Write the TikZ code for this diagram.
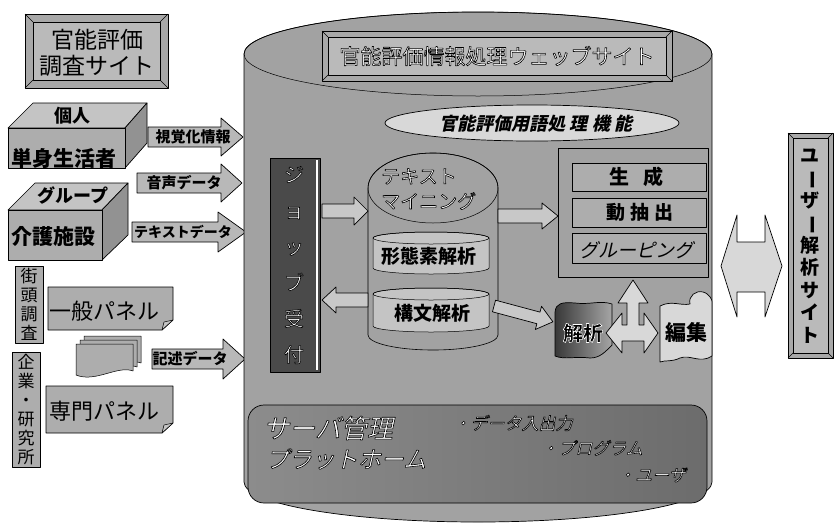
\documentclass[tikz,border=0pt]{standalone}
\usepackage{fontspec}
\setmainfont{Noto Sans CJK JP}
\newfontfamily\jpi[FakeSlant=0.22]{Noto Sans CJK JP}
\usepackage{graphicx}
\definecolor{cylbg}{HTML}{A2A2A2}
\definecolor{boxg}{HTML}{ADADAD}
\definecolor{boxlt}{HTML}{C4C4C4}
\definecolor{boxdk}{HTML}{929292}
\definecolor{arrg}{HTML}{B8B8B8}
\definecolor{hollow}{HTML}{C8C8C8}
\definecolor{lite}{HTML}{D8D8D8}
\definecolor{jobg}{HTML}{4A4A4A}
\definecolor{srvL}{HTML}{8C8C8C}
\definecolor{srvM}{HTML}{464646}
\definecolor{srvR}{HTML}{6C6C6C}
\definecolor{bevA}{HTML}{A8A8A8}
\definecolor{bevB}{HTML}{BABABA}
% outlined text: fill colour, stroke grey, text
\newcommand\outl[3]{{\color{#1}\special{pdf:literal direct 0.6 w #2 G 2 Tr}#3\special{pdf:literal direct 0 Tr}}}
\newcommand\ow[1]{\outl{white}{0}{#1}}
% right / left block arrows: style, x1, x2, y, body half, head half, head length
\newcommand\rarr[7]{\path[#1] (#2,#4-#5) -- (#3-#7,#4-#5) -- (#3-#7,#4-#6) -- (#3,#4) -- (#3-#7,#4+#6) -- (#3-#7,#4+#5) -- (#2,#4+#5) -- cycle;}
\newcommand\larr[7]{\path[#1] (#2,#4-#5) -- (#3+#7,#4-#5) -- (#3+#7,#4-#6) -- (#3,#4) -- (#3+#7,#4+#6) -- (#3+#7,#4+#5) -- (#2,#4+#5) -- cycle;}
% small cylinder: cx, top y, bottom y, rx, ry, fill
\newcommand\scyl[6]{\path[tl,fill=#6] (#1-#4,#2) -- (#1-#4,#3) arc[start angle=180,end angle=360,x radius=#4pt,y radius=#5pt] -- (#1+#4,#2) arc[start angle=0,end angle=180,x radius=#4pt,y radius=#5pt] -- cycle;
 \draw[tl] (#1,#2) ellipse[x radius=#4pt,y radius=#5pt];}
% bevelled plate: x1,y1,x2,y2,inset
\newcommand\bevel[5]{\path[ln,fill=bevA] (#1,#2) rectangle (#3,#4);
 \path[tl,fill=bevB] (#1+#5,#2+#5) rectangle (#3-#5,#4-#5);
 \draw[tl] (#1,#2) -- (#1+#5,#2+#5) (#3,#2) -- (#3-#5,#2+#5) (#3,#4) -- (#3-#5,#4-#5) (#1,#4) -- (#1+#5,#4-#5);}
\begin{document}
\begin{tikzpicture}[x=1pt,y=-1pt,line join=round,
  ln/.style={draw=black,line width=0.7pt},
  tl/.style={draw=black,line width=0.5pt},
  lbl/.style={inner sep=0pt,text=black},
  fr/.style={font=\fontsize{#1}{#1}\selectfont},
  fb/.style={font=\fontsize{#1}{#1}\selectfont\bfseries},
  fi/.style={font=\jpi\fontsize{#1}{#1}\selectfont},
  vt/.style 2 args={font=\fontsize{#1}{#2}\selectfont,align=center}]
\useasboundingbox (0,0) rectangle (834,525);
\fill[white] (0,0) rectangle (834,525);

% ===== left column =====
\bevel{25}{14}{168}{88}{8}
\node[lbl,vt={23}{26}] (survey) at (97,53) {官能評価\\調査サイト};

% individual box
\path[ln,fill=boxlt] (8,128) -- (33,103) -- (147,103) -- (125,128) -- cycle;
\path[ln,fill=boxdk] (125,128) -- (147,103) -- (147,143) -- (125,168) -- cycle;
\path[ln,fill=boxg] (8,128) rectangle (125,168);
\node[lbl,fb=18] (kojin) at (72,116) {個人};
\node[lbl,fb=21] (tanshin) at (64,158) {単身生活者};

% group box
\path[ln,fill=boxlt] (8,210) -- (35,183) -- (128,183) -- (102,210) -- cycle;
\path[ln,fill=boxdk] (102,210) -- (128,183) -- (128,235) -- (102,260) -- cycle;
\path[ln,fill=boxg] (8,210) rectangle (102,260);
\node[lbl,fb=18] (group) at (73,195) {グループ};
\node[lbl,fb=21] (kaigo) at (53,236) {介護施設};

% input arrows
\rarr{ln,fill=arrg}{148}{243}{137}{10}{19}{22}
\node[lbl,fb=15] (shikaku) at (193,137) {視覚化情報};
\rarr{ln,fill=arrg}{137}{242}{183}{10}{19}{21}
\node[lbl,fb=15] (onsei) at (184,183) {音声データ};
\rarr{ln,fill=arrg}{132}{246}{232}{10}{20}{28}
\node[lbl,fb=14] (textdata) at (183,232) {テキストデータ};
\rarr{ln,fill=arrg}{152}{245}{359}{10}{20}{22}
\node[lbl,fb=15] (kijutsu) at (190,359) {記述データ};

% vertical strips
\path[ln,fill=boxg] (15,266) rectangle (43,343);
\node[lbl,vt={17}{19}] (gaito) at (29,304) {街\\頭\\調\\査};
\path[ln,fill=boxg] (12,352) rectangle (40,467);
\node[lbl,vt={17}{19}] (kigyo) at (26,410) {企\\業\\・\\研\\究\\所};

% panels
\path[ln,fill=boxg] (48,287) -- (173,287) -- (173,320) -- (162,330) -- (48,330) -- cycle;
\path[tl,fill=boxlt] (173,320) -- (164,322) -- (162,330) -- cycle;
\node[lbl,fr=22] (ippan) at (104,311) {一般パネル};
\path[ln,fill=boxg] (46,386) -- (173,386) -- (173,423) -- (162,433) -- (46,433) -- cycle;
\path[tl,fill=boxlt] (173,423) -- (164,425) -- (162,433) -- cycle;
\node[lbl,fr=22] (senmon) at (104,411) {専門パネル};

% documents
\foreach \d in {8,4,0}{
 \path[tl,fill=boxg] (76+\d,344-\d) -- (133+\d,344-\d) -- (133+\d,371-\d) .. controls (118+\d,365-\d) and (95+\d,383-\d) .. (76+\d,375-\d) -- cycle;}

% ===== main cylinder =====
\path[ln,fill=cylbg] (244,54) -- (244,482) arc[start angle=180,end angle=360,x radius=234pt,y radius=40pt] -- (712,54) arc[start angle=0,end angle=180,x radius=234pt,y radius=42pt] -- cycle;
\draw[tl] (478,54) ellipse[x radius=234pt,y radius=42pt];

\bevel{322}{31}{672}{81}{6}
\node[lbl,fr=21] (title) at (497,56) {\ow{官能評価情報処理ウェッブサイト}};

\path[ln,fill=lite] (532,123) ellipse[x radius=147pt,y radius=18pt];
\node[lbl,font=\jpi\fontsize{18}{18}\selectfont\bfseries] (term) at (536,124) {官能評価用語処 理 機 能};

% job reception
\path[ln,fill=jobg] (270,158) rectangle (320,372);
\draw[white,line width=1.5pt] (317,160) -- (317,370);
\node[lbl,vt={20}{36}] (job) at (294,265) {\ow{ジ}\\\ow{ョ}\\\ow{ッ}\\\ow{ブ}\\\ow{受}\\\ow{付}};

% text mining cylinder
\path[tl,line width=0.6pt,fill=cylbg] (368,188) -- (368,335) arc[start angle=180,end angle=360,x radius=65pt,y radius=15pt] -- (498,188) arc[start angle=0,end angle=180,x radius=65pt,y radius=35pt] -- cycle;
\draw[tl] (433,188) ellipse[x radius=65pt,y radius=35pt];
\node[lbl,font=\fontsize{19}{25}\selectfont,align=left,anchor=west] (mining) at (381,189) {\ow{テキスト}\\\ow{マイニング}};

\scyl{431}{238}{268}{58}{6}{boxlt}
\node[lbl,fb=19] (keitai) at (429,256) {形態素解析};
\scyl{431}{294}{326}{58}{6}{boxlt}
\node[lbl,fb=19] (kobun) at (432,313) {構文解析};

\rarr{ln,fill=hollow}{322}{368}{211}{7}{14}{14}
\larr{ln,fill=hollow}{368}{322}{300}{7}{13}{14}
\rarr{ln,fill=hollow}{498}{558}{216}{7}{13}{16}
\begin{scope}[shift={(494,306)},rotate=-15]
\rarr{ln,fill=hollow}{0}{61}{0}{6}{12}{15}
\end{scope}

% function container
\draw[tl,line width=0.8pt] (558,148) rectangle (708,277);
\path[tl,fill=boxg] (572,163) rectangle (706,191);
\node[lbl,fb=20] (seisei) at (636,177) {生\hspace{14pt}成};
\path[tl,fill=boxg] (572,198) rectangle (706,227);
\node[lbl,fb=19] (dochu) at (640,212) {動\hspace{5pt}抽\hspace{5pt}出};
\path[tl,fill=boxg] (572,233) rectangle (706,263);
\node[lbl,fi=19] (grouping) at (636,250) {グルーピング};

% analysis shape
\path[ln,left color=black!78,right color=black!35] (555,312) .. controls (556,303) and (562,302) .. (575,303) .. controls (590,305) and (600,300) .. (612,304) -- (612,345) .. controls (605,352) and (600,358) .. (590,358) .. controls (575,356) and (565,360) .. (555,356) -- cycle;
\node[lbl,fb=20] (kaiseki) at (583,333) {\outl{black}{1}{解析}};

% edit shape
\path[ln,fill=lite] (660,306) .. controls (672,300) and (680,306) .. (690,304) .. controls (688,296) and (696,290) .. (703,292) .. controls (710,294) and (712,300) .. (712,302) -- (712,356) .. controls (700,364) and (690,354) .. (680,358) .. controls (672,362) and (665,360) .. (660,362) -- cycle;
\node[lbl,fb=21] (henshu) at (686,333) {編集};

% left-right-up arrow
\path[ln,fill=lite] (606,333) -- (622,313) -- (622,325) -- (627,325) -- (627,303) -- (618,303) -- (633,280) -- (648,303) -- (639,303) -- (639,325) -- (644,325) -- (644,313) -- (658,333) -- (644,353) -- (644,341) -- (622,341) -- (622,353) -- cycle;

% server platform
\shadedraw[ln,rounded corners=16pt,left color=srvL,middle color=srvM,right color=srvR] (248,405) rectangle (707,503);
\node[lbl,fi=26] (server) at (328,428) {\ow{サーバ管理}};
\node[lbl,fi=23] (platform) at (346,459) {\ow{プラットホーム}};
\node[lbl,fi=17] (dataio) at (513,423) {\ow{・データ入出力}};
\node[lbl,fi=17] (program) at (592,448) {\ow{・プログラム}};
\node[lbl,fi=17] (user) at (652,475) {\ow{・ユーザ}};

% ===== right side =====
\path[ln,fill=lite] (721,266) -- (737,215) -- (737,242) -- (765,242) -- (765,215) -- (782,266) -- (765,317) -- (765,292) -- (737,292) -- (737,317) -- cycle;
\bevel{788}{133}{833}{358}{5}
\node[lbl,font=\fontsize{19}{22.5}\selectfont\bfseries,align=center] (usersite) at (810,246) {ユ\\\rotatebox[origin=c]{-90}{ー}\\ザ\\\rotatebox[origin=c]{-90}{ー}\\解\\析\\サ\\イ\\ト};
\end{tikzpicture}
\end{document}
